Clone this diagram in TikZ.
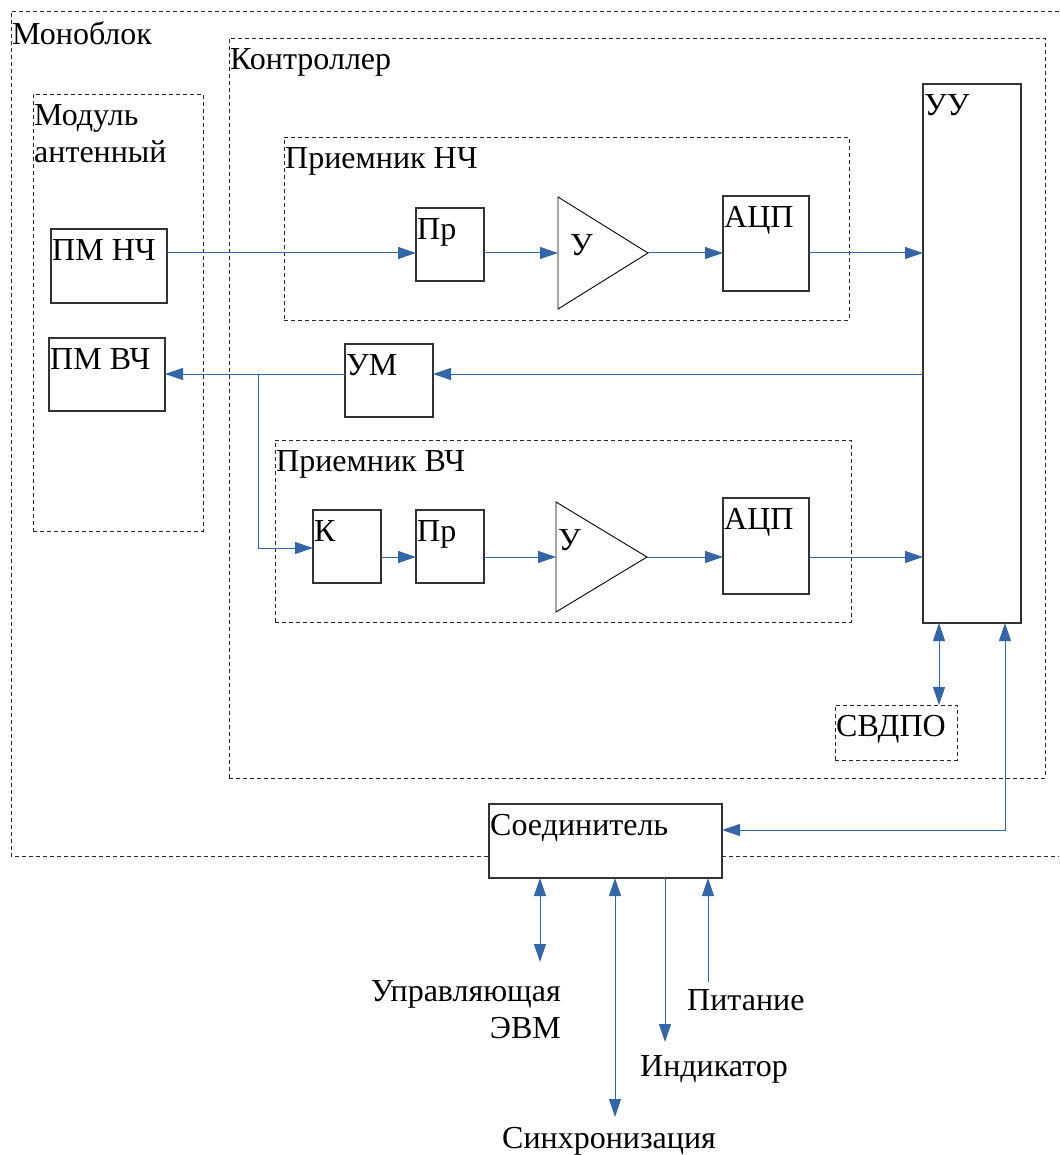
\documentclass[tikz,border=0pt]{standalone}
\usepackage{fontspec}
\setmainfont{Liberation Serif}
\usetikzlibrary{arrows.meta,positioning,shapes.geometric}
\definecolor{sigblue}{HTML}{3465A4}
\definecolor{boxgray}{HTML}{333333}

\begin{document}
\begin{tikzpicture}[
  x=1pt, y=-1pt,
  txt/.style={font=\fontsize{32}{37}\selectfont, inner sep=0pt},
  lbl/.style={txt, anchor=north west, xshift=1pt, yshift=-10pt},
  blk/.style={draw=boxgray, fill=white, line width=1.1pt, inner sep=0pt, outer sep=0pt},
  frame/.style={draw=black!85, dash pattern=on 4pt off 3pt, line width=0.9pt, inner sep=0pt, outer sep=0pt},
  amp/.style={draw, isosceles triangle, isosceles triangle stretches, shape border rotate=0,
    inner sep=0pt, outer sep=0pt, line width=0.9pt, anchor=apex},
  sig/.style={sigblue, line width=1pt, -{Triangle[length=18pt,width=12pt]}},
  dsig/.style={sig, {Triangle[length=18pt,width=12pt]}-{Triangle[length=18pt,width=12pt]}},
]
\useasboundingbox (0,0) rectangle (1059,1155);

% frames
\draw[frame] (1059,11) -- (11,11) -- (11,856) -- (1059,856);
\node[lbl] (monolbl) at (11,11) {Моноблок};
\node[frame, minimum width=816pt, minimum height=740pt, label={[lbl]north west:Контроллер}] (ctrl) at (637,408) {};
\node[frame, minimum width=170pt, minimum height=437pt, label={[lbl, align=left]north west:Модуль\\антенный}] (antmod) at (118,312.5) {};
\node[frame, minimum width=565pt, minimum height=183pt, label={[lbl]north west:Приемник НЧ}] (rxlf) at (566.5,228.5) {};
\node[frame, minimum width=576pt, minimum height=182pt, label={[lbl]north west:Приемник ВЧ}] (rxhf) at (563,531) {};
\node[frame, minimum width=122pt, minimum height=55pt, label={[lbl]north west:СВДПО}] (svdpo) at (896,732.5) {};

% blocks
\node[blk, minimum width=116pt, minimum height=74pt, label={[lbl]north west:ПМ НЧ}] (pmnch) at (109,266) {};
\node[blk, minimum width=116pt, minimum height=73pt, label={[lbl]north west:ПМ ВЧ}] (pmvch) at (107,374.5) {};
\node[blk, minimum width=68pt, minimum height=73pt, label={[lbl]north west:Пр}] (prnch) at (450,244.5) {};
\node[amp, minimum width=112pt, minimum height=90pt, label={[txt, anchor=base west, xshift=12pt, yshift=-3pt]west:У}] (ampnch) at (648,253) {};
\node[blk, minimum width=86pt, minimum height=95pt, label={[lbl]north west:АЦП}] (adcnch) at (766,243.5) {};
\node[blk, minimum width=98pt, minimum height=539pt, label={[lbl]north west:УУ}] (uu) at (972,353.5) {};
\node[blk, minimum width=88pt, minimum height=73pt, label={[lbl]north west:УМ}] (um) at (389,380.5) {};
\node[blk, minimum width=68pt, minimum height=73pt, label={[lbl]north west:К}] (k) at (347,546.5) {};
\node[blk, minimum width=68pt, minimum height=73pt, label={[lbl]north west:Пр}] (prvch) at (450,546.5) {};
\node[amp, minimum width=110pt, minimum height=91pt, label={[txt, anchor=base west, xshift=2pt, yshift=7pt]west:У}] (ampvch) at (647,557) {};
\node[blk, minimum width=86pt, minimum height=96pt, label={[lbl]north west:АЦП}] (adcvch) at (766,546) {};
\node[blk, minimum width=233pt, minimum height=74pt, label={[lbl]north west:Соединитель}] (conn) at (605.5,841) {};

% outside labels
\node[txt, align=right, anchor=north east] (evmlbl) at (561,980) {Управляющая\\ЭВМ};
\node[txt, anchor=base west] (pitlbl) at (687,1010) {Питание};
\node[txt, anchor=base west] (indlbl) at (640,1076) {Индикатор};
\node[txt, anchor=base west] (synclbl) at (502,1148) {Синхронизация};

\coordinate (rowA) at (0,253);
\coordinate (rowB) at (0,374);
\coordinate (rowC) at (0,548);
\coordinate (rowD) at (0,557);
\coordinate (tap) at (258,374);
\coordinate (bd) at (939,0);
\coordinate (bus) at (1005,830);
\coordinate (evm) at (540,962);
\coordinate (sync) at (615,1117);
\coordinate (ind) at (665,1042);
\coordinate (pit) at (708,982);

% signals
\draw[sig] (pmnch.east |- rowA) -- (prnch.west |- rowA);
\draw[sig] (prnch.east |- rowA) -- (ampnch.west |- rowA);
\draw[sig] (ampnch.apex) -- (adcnch.west |- ampnch.apex);
\draw[sig] (adcnch.east |- rowA) -- (uu.west |- rowA);
\draw[sig] (uu.west |- rowB) -- (um.east |- rowB);
\draw[sig] (um.west |- rowB) -- (pmvch.east |- rowB);
\draw[sig] (tap) |- (k.west |- rowC);
\draw[sig] (k.east |- rowD) -- (prvch.west |- rowD);
\draw[sig] (prvch.east |- rowD) -- (ampvch.west |- rowD);
\draw[sig] (ampvch.apex) -- (adcvch.west |- ampvch.apex);
\draw[sig] (adcvch.east |- rowD) -- (uu.west |- rowD);
\draw[dsig] (uu.south -| bd) -- (svdpo.north -| bd);
\draw[dsig] (conn.east |- bus) -| (uu.south -| bus);
\draw[dsig] (conn.south -| evm) -- (evm);
\draw[dsig] (conn.south -| sync) -- (sync);
\draw[sig] (conn.south -| ind) -- (ind);
\draw[sig] (pit) -- (conn.south -| pit);
\end{tikzpicture}
\end{document}
